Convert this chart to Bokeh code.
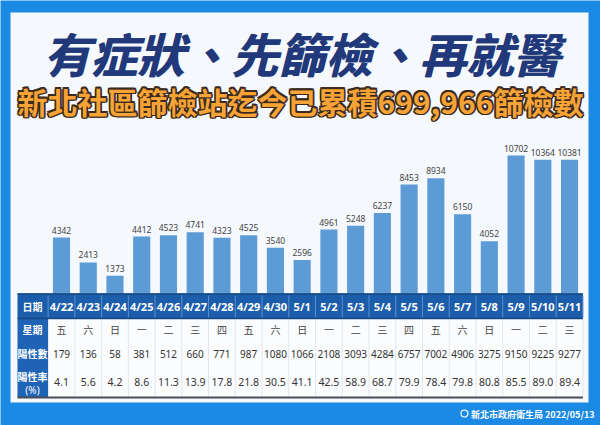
from bokeh.plotting import figure
from bokeh.models import Range1d
from bokeh.core.properties import value
from bokeh.embed import file_html
from bokeh.resources import INLINE

# ---------------- data ----------------
title = "有症狀、先篩檢、再就醫"
subtitle = "新北社區篩檢站迄今已累積699,966篩檢數"
footer = "新北市政府衛生局 2022/05/13"
dates = ["4/22", "4/23", "4/24", "4/25", "4/26", "4/27", "4/28", "4/29", "4/30", "5/1",
         "5/2", "5/3", "5/4", "5/5", "5/6", "5/7", "5/8", "5/9", "5/10", "5/11"]
weekdays = ["五", "六", "日", "一", "二", "三", "四", "五", "六", "日",
            "一", "二", "三", "四", "五", "六", "日", "一", "二", "三"]
tests = [4342, 2413, 1373, 4412, 4523, 4741, 4323, 4525, 3540, 2596,
         4961, 5248, 6237, 8453, 8934, 6150, 4052, 10702, 10364, 10381]
positives = [179, 136, 58, 381, 512, 660, 771, 987, 1080, 1066,
             2108, 3093, 4284, 6757, 7002, 4906, 3275, 9150, 9225, 9277]
rates = [4.1, 5.6, 4.2, 8.6, 11.3, 13.9, 17.8, 21.8, 30.5, 41.1,
         42.5, 58.9, 68.7, 79.9, 78.4, 79.8, 80.8, 85.5, 89.0, 89.4]
row_labels = ["日期", "星期", "陽性數", "陽性率"]

# ---------------- layout ----------------
W, H = 600, 425
X0, DX = 61.0, 26.74          # pixel of first column centre, column pitch
YB = 293.0                    # bar baseline (pixels from top)
U = 10702 / 138.0             # data units per pixel (vertical)


def dx(px):
    return (px - X0) / DX


def dy(py):
    return (YB - py) * U


p = figure(width=W, height=H, output_backend="svg", toolbar_location=None,
           x_range=Range1d(dx(0), dx(W)), y_range=Range1d(dy(H), dy(0)),
           min_border=0)
p.axis.visible = False
p.grid.visible = False
p.outline_line_color = None
p.background_fill_color = "#1b8ae4"
p.border_fill_color = "#1b8ae4"

CJK = value("Noto Sans CJK TC")
LAT = value("Noto Sans")
n = len(dates)
idx = list(range(n))

# inner panel
p.quad(left=[dx(10)], right=[dx(588)], top=[dy(12)], bottom=[dy(402)],
       fill_color="#f5f8fc", line_color=None)

# title (drawn twice with a tiny offset to make it heavier)
for ox in (0, 1):
    p.text(x=[dx(301)], y=[dy(52)], text=[title], text_align="center", text_baseline="middle",
           text_font=CJK, text_font_style="bold italic", text_font_size="47px",
           text_color="#21397a", x_offset=ox)

# subtitle with outline
for ox, oy in [(-1.6, 0), (1.6, 0), (0, -1.6), (0, 1.6), (-1.2, -1.2), (1.2, 1.2), (-1.2, 1.2), (1.2, -1.2)]:
    p.text(x=[dx(300)], y=[dy(100)], text=[subtitle], text_align="center", text_baseline="middle",
           text_font=CJK, text_font_style="bold", text_font_size="30px",
           text_color="#3b2b1e", x_offset=ox, y_offset=oy)
p.text(x=[dx(300)], y=[dy(100)], text=[subtitle], text_align="center", text_baseline="middle",
       text_font=CJK, text_font_style="bold", text_font_size="30px", text_color="#f8a336")

# bars
p.vbar(x=idx, top=tests, bottom=0, width=0.64, fill_color="#5c9bd6", line_color=None)
p.text(x=idx, y=tests, text=[str(v) for v in tests], text_align="center",
       text_baseline="bottom", y_offset=-4, text_font=LAT, text_font_size="8.5px",
       text_color="#444444")

# table backgrounds
left_px, right_px = 17, X0 + (n - 0.5) * DX
p.quad(left=[dx(left_px)], right=[dx(right_px)], top=[dy(293)], bottom=[dy(318)],
       fill_color="#1b5dab", line_color=None)
p.quad(left=[dx(47.6)], right=[dx(right_px)], top=[dy(318)], bottom=[dy(397)],
       fill_color="#fbfcfe", line_color=None)
p.quad(left=[dx(left_px)], right=[dx(47.6)], top=[dy(318)], bottom=[dy(397)],
       fill_color="#1f63b4", line_color=None)

# separators
sep_x = [i - 0.5 for i in range(n)] + [n - 0.5]
p.segment(x0=sep_x, x1=sep_x, y0=[dy(295)] * len(sep_x), y1=[dy(317)] * len(sep_x),
          line_color="#5b8fcc", line_width=1)
p.segment(x0=sep_x[1:], x1=sep_x[1:], y0=[dy(319)] * (len(sep_x) - 1), y1=[dy(396)] * (len(sep_x) - 1),
          line_color="#e1e6ee", line_width=1)
p.segment(x0=[dx(left_px)] * 2, x1=[dx(right_px)] * 2, y0=[dy(293.5), dy(318)], y1=[dy(293.5), dy(318)],
          line_color="#16467f", line_width=1.5)
p.segment(x0=[dx(left_px)], x1=[dx(right_px)], y0=[dy(397)], y1=[dy(397)],
          line_color="#4a4f57", line_width=2)

# header row
p.text(x=idx, y=[dy(306)] * n, text=dates, text_align="center", text_baseline="middle",
       text_font=LAT, text_font_style="bold", text_font_size="11px", text_color="white")

# body rows
p.text(x=idx, y=[dy(329)] * n, text=weekdays, text_align="center", text_baseline="middle",
       text_font=CJK, text_font_size="10px", text_color="#444444")
p.text(x=idx, y=[dy(353)] * n, text=[str(v) for v in positives], text_align="center",
       text_baseline="middle", text_font=LAT, text_font_size="10px", text_color="#333333")
p.text(x=idx, y=[dy(381)] * n, text=["%.1f" % v for v in rates], text_align="center",
       text_baseline="middle", text_font=LAT, text_font_size="10.5px", text_color="#333333")

# row labels
lx = dx(32)
p.text(x=[lx] * 3, y=[dy(306), dy(329), dy(353)], text=row_labels[:3], text_align="center",
       text_baseline="middle", text_font=CJK, text_font_style="bold", text_font_size="10px",
       text_color="white")
p.text(x=[lx], y=[dy(376)], text=[row_labels[3]], text_align="center",
       text_baseline="middle", text_font=CJK, text_font_style="bold", text_font_size="10px",
       text_color="white")
p.text(x=[lx], y=[dy(389)], text=["(%)"], text_align="center",
       text_baseline="middle", text_font=LAT, text_font_size="10px", text_color="white")

# footer
p.scatter(x=[dx(464)], y=[dy(413)], size=7, marker="circle", fill_color=None,
          line_color="white", line_width=1.2)
p.text(x=[dx(594)], y=[dy(414)], text=[footer], text_align="right", text_baseline="middle",
       text_font=CJK, text_font_style="bold", text_font_size="9px", text_color="white")

open("out.html", "w").write(file_html(p, INLINE))
